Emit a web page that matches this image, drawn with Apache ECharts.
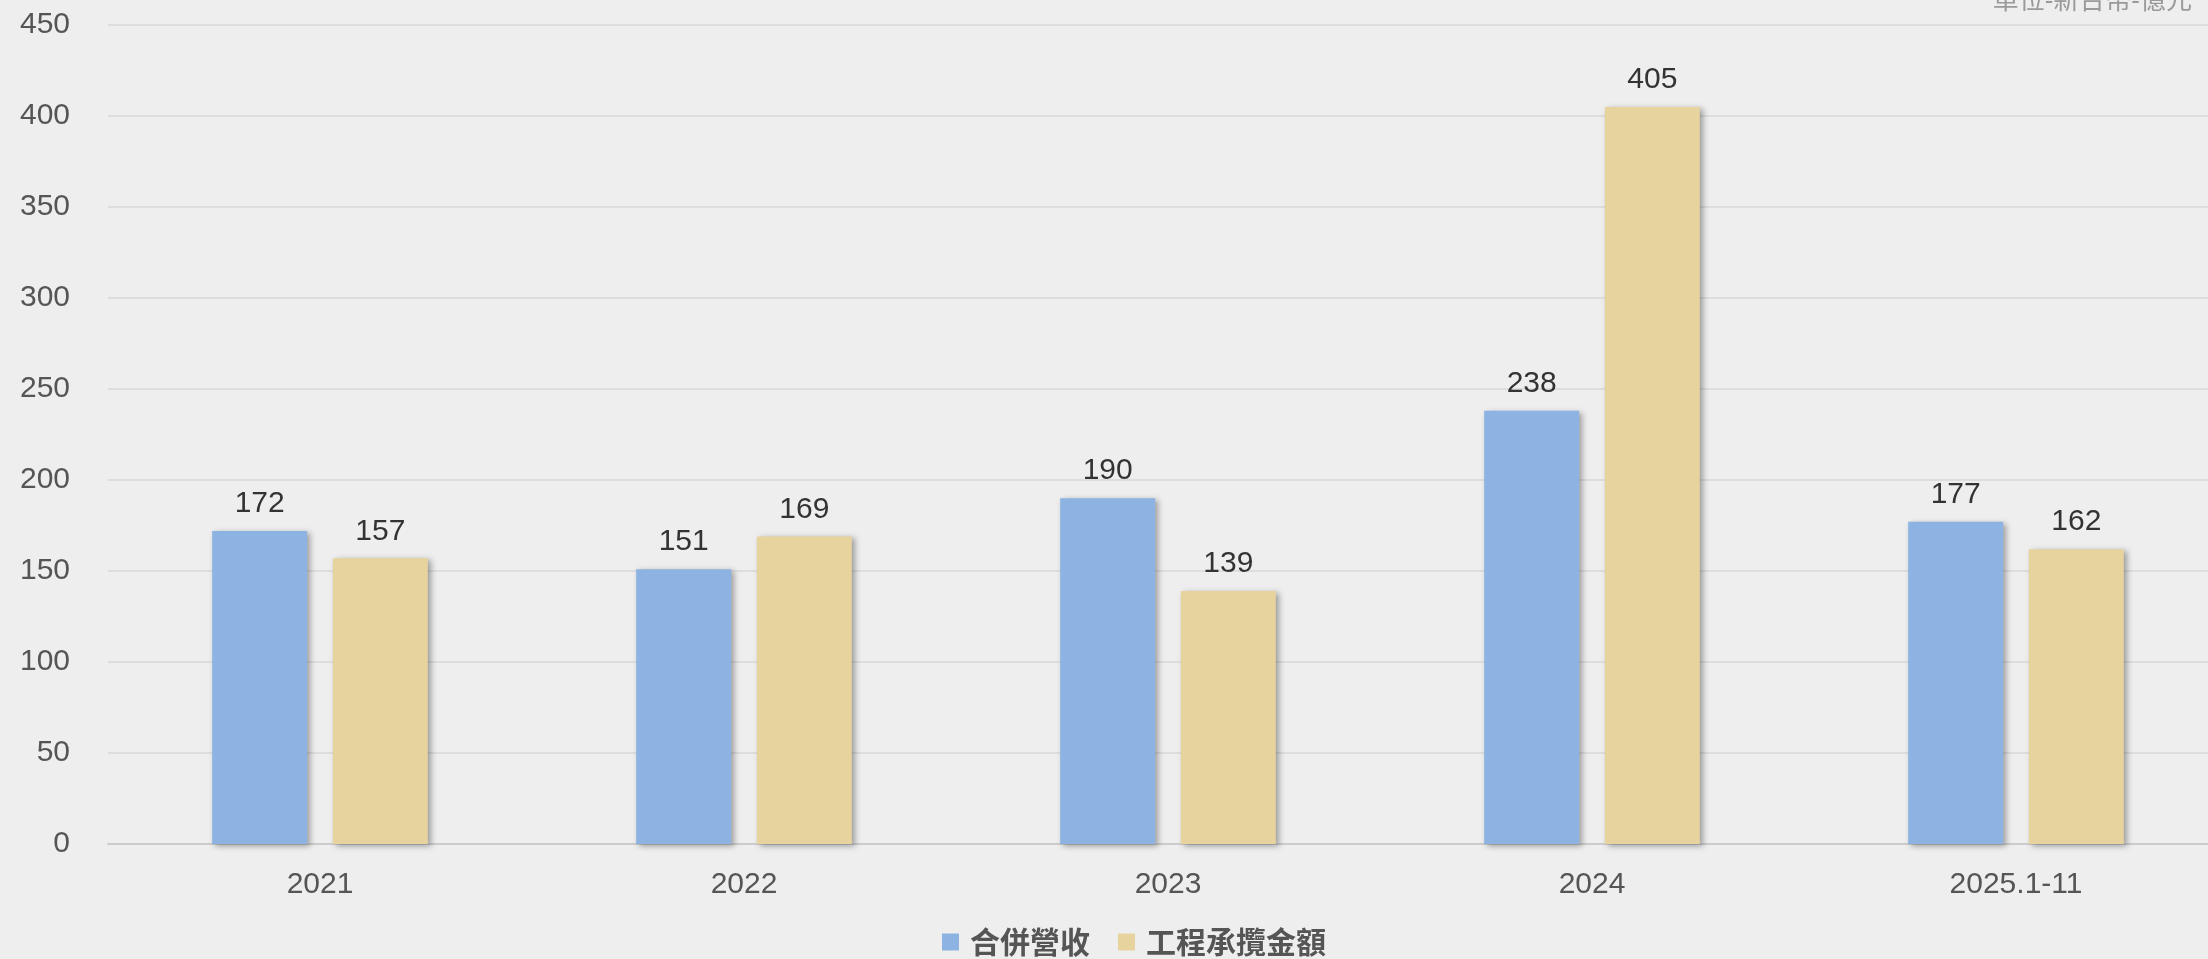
<!DOCTYPE html>
<html>
<head>
<meta charset="utf-8">
<script src="https://cdn.jsdelivr.net/npm/echarts@6/dist/echarts.min.js"></script>
<style>
html,body{margin:0;padding:0;overflow:hidden;background:#eeeeee;}
#chart{width:2268px;height:959px;}
</style>
</head>
<body>
<div id="chart"></div>
<script>
const categories = ['2021', '2022', '2023', '2024', '2025.1-11'];
const revenue = [172, 151, 190, 238, 177];
const contracts = [157, 169, 139, 405, 162];
const seriesNames = ['合併營收', '工程承攬金額'];
const unitText = '單位-新台幣-億元';

const chart = echarts.init(document.getElementById('chart'));
const font = '"Liberation Sans", Arial, "Noto Sans CJK TC", sans-serif';
const shadow = {shadowColor: 'rgba(0,0,0,0.35)', shadowBlur: 6, shadowOffsetX: 3, shadowOffsetY: 2};
chart.setOption({
  backgroundColor: 'transparent',
  textStyle: {fontFamily: font},
  title: {
    text: unitText, right: 71, top: -16,
    textStyle: {color: '#9a9a9a', fontSize: 26, fontWeight: 'normal', fontFamily: font}
  },
  legend: {
    data: seriesNames, left: 'center', top: 922,
    itemWidth: 17, itemHeight: 17, itemGap: 28, icon: 'rect',
    textStyle: {color: '#555', fontSize: 30, fontWeight: 'bold', padding: [0, 0, 0, 6], fontFamily: '"Noto Sans CJK TC", sans-serif'}
  },
  grid: {left: 108, right: 40, top: 25, bottom: 115},
  xAxis: {
    type: 'category', data: categories,
    axisLine: {lineStyle: {color: '#cccccc', width: 2}},
    axisTick: {show: false},
    axisLabel: {color: '#555', fontSize: 30, margin: 26, fontFamily: font}
  },
  yAxis: {
    type: 'value', min: 0, max: 450, interval: 50,
    axisLine: {show: false}, axisTick: {show: false},
    axisLabel: {color: '#555', fontSize: 30, margin: 38, fontFamily: font},
    splitLine: {lineStyle: {color: '#dddddd', width: 2}}
  },
  series: [
    {
      name: seriesNames[0], type: 'bar', data: revenue, barWidth: 95, barGap: '27%',
      itemStyle: Object.assign({color: '#8db3e2'}, shadow),
      label: {show: true, position: 'top', distance: 12, color: '#333', fontSize: 30, fontFamily: font}
    },
    {
      name: seriesNames[1], type: 'bar', data: contracts, barWidth: 95,
      itemStyle: Object.assign({color: '#e6d39e'}, shadow),
      label: {show: true, position: 'top', distance: 12, color: '#333', fontSize: 30, fontFamily: font}
    }
  ]
});
</script>
</body>
</html>
